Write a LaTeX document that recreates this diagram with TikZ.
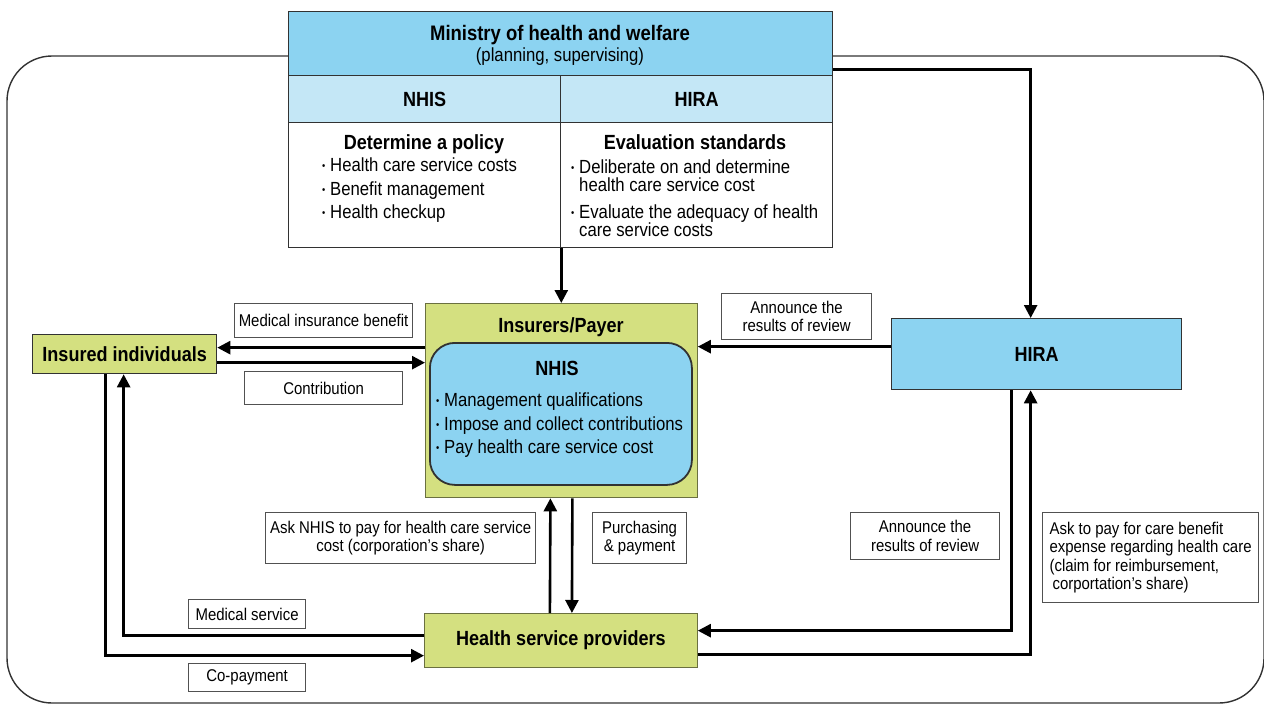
\documentclass[tikz,border=0pt]{standalone}
\usepackage{fontspec}
\setmainfont{Liberation Sans}[FakeStretch=0.88]
\usetikzlibrary{arrows.meta}
\definecolor{skyblue}{RGB}{140,211,241}
\definecolor{paleblue}{RGB}{196,231,246}
\definecolor{olive}{RGB}{212,224,128}
\definecolor{edge}{RGB}{50,50,50}
\newcommand{\bul}{\makebox[8pt][l]{\raisebox{0.1em}{\scalebox{0.55}{\textbullet}}}}
\newcommand{\ind}{\hspace*{8pt}}
\tikzset{
  box/.style={draw=edge,line width=1.3pt,inner sep=0pt,anchor=north west},
  lbl/.style={draw=edge!85,fill=white,line width=1.2pt,inner sep=0pt,anchor=north west,align=center,font=\fontsize{17}{18.5}\selectfont},
  arr/.style={line width=2.6pt,-{Triangle[length=13pt,width=13pt]}},
  ttl/.style={font=\fontsize{20.5}{22}\selectfont\bfseries},
}
\begin{document}
\begin{tikzpicture}[x=1pt,y=-1pt]
    \useasboundingbox (0,0) rectangle (1264,704);
    % outer frame
    \draw[line width=1.4pt,draw=edge,rounded corners=45pt] (7,56) rectangle (1264,703);
    % ministry of health and welfare
    \node[box,fill=skyblue,minimum width=544pt,minimum height=64pt] (ministry) at (288,11) {};
    \node[anchor=base,font=\fontsize{21}{22}\selectfont\bfseries] (mintitle) at (560,40.5) {Ministry of health and welfare};
    \node[anchor=base,font=\fontsize{19}{22}\selectfont] (minsub) at (560,61) {(planning, supervising)};
    \node[box,fill=paleblue,minimum width=272pt,minimum height=47pt,ttl] (nhishead) at (288,75) {NHIS};
    \node[box,fill=paleblue,minimum width=272pt,minimum height=47pt,ttl] (hirahead) at (560,75) {HIRA};
    \node[box,fill=white,minimum width=272pt,minimum height=125pt] (nhisbody) at (288,122) {};
    \node[box,fill=white,minimum width=272pt,minimum height=125pt] (hirabody) at (560,122) {};
    \node[ttl,anchor=base] (policy) at (424,149.5) {Determine a policy};
    % base anchor of a list = baseline of its last line
    \node[anchor=base west,align=left,inner sep=0pt,font=\fontsize{19}{23.5}\selectfont] (policylist) at (322,218.5)
        {\bul Health care service costs\\ \bul Benefit management\\ \bul Health checkup};
    \node[ttl,anchor=base] (standards) at (695,149.5) {Evaluation standards};
    \node[anchor=base west,align=left,inner sep=0pt,font=\fontsize{19}{18}\selectfont] (standardslist) at (571,236.5)
        {\bul Deliberate on and determine\\ \ind health care service cost\\[9pt] \bul Evaluate the adequacy of health\\ \ind care service costs};
    % actors
    \node[box,fill=olive,minimum width=184pt,minimum height=39pt,ttl] (insured) at (32,334) {Insured individuals};
    \node[box,fill=olive,draw=olive!50!black,minimum width=271.5pt,minimum height=194pt] (insurers) at (425,303) {};
    \node[ttl,anchor=base] (payer) at (561,332) {Insurers/Payer};
    \node[box,fill=skyblue,line width=1.8pt,rounded corners=25pt,minimum width=262pt,minimum height=142pt] (nhis) at (429,342) {};
    \node[ttl,anchor=base] (nhistitle) at (557,375) {NHIS};
    \node[anchor=base west,align=left,inner sep=0pt,font=\fontsize{19}{23.5}\selectfont] (nhislist) at (436,453.5)
        {\bul Management qualifications\\ \bul Impose and collect contributions\\ \bul Pay health care service cost};
    \node[box,fill=skyblue,minimum width=290pt,minimum height=71pt,ttl] (hira) at (891,318) {HIRA};
    \node[box,fill=olive,draw=olive!50!black,minimum width=272.5pt,minimum height=54pt,ttl] (providers) at (424,613) {Health service providers};
    % labels
    \node[lbl,minimum width=178pt,minimum height=34pt] (benefit) at (234,303) {Medical insurance benefit};
    \node[lbl,minimum width=158pt,minimum height=33pt] (contribution) at (244,371) {Contribution};
    \node[lbl,minimum width=150pt,minimum height=46pt] (review) at (721,293) {Announce the\\results of review};
    \node[lbl,minimum width=270pt,minimum height=51pt] (asknhis) at (265,512) {Ask NHIS to pay for health care service\\cost (corporation’s share)};
    \node[lbl,minimum width=94pt,minimum height=51pt] (purchasing) at (592,512) {Purchasing\\\& payment};
    \node[lbl,minimum width=149pt,minimum height=47pt] (reviewb) at (850,512) {Announce the\\results of review};
    \node[lbl,align=left,minimum width=216pt,minimum height=90pt] (claim) at (1042,512)
        {Ask to pay for care benefit\\expense regarding health care\\(claim for reimbursement,\\\hspace*{3pt}corportation’s share)};
    \node[lbl,minimum width=117pt,minimum height=29pt] (medservice) at (188,599) {Medical service};
    \node[lbl,minimum width=117pt,minimum height=28pt] (copay) at (188,663) {Co-payment};
    % flows from the ministry
    \draw[arr] (nhisbody.south east) -- (nhisbody.south east |- insurers.north);
    \draw[arr] ([yshift=7pt]ministry.south east) -| ([xshift=-6pt]hira.north);
    % insured individuals and insurers
    \coordinate (ibtop) at ([yshift=6.5pt]insured.east);
    \coordinate (ibbot) at ([yshift=-8.5pt]insured.east);
    \draw[arr] (insurers.west |- ibtop) -- (ibtop);
    \draw[arr] (ibbot) -- (insurers.west |- ibbot);
    % hira and insurers
    \coordinate (hw) at ([yshift=7.5pt]hira.west);
    \draw[arr] (hw) -- (insurers.east |- hw);
    % insured individuals and providers
    \draw[arr] ([xshift=-19pt]insured.south) |- ([yshift=-15pt]providers.west);
    \draw[arr] ([yshift=5pt]providers.west) -| ([xshift=-1pt]insured.south);
    % insurers and providers
    \draw[arr] ([xshift=-11pt]providers.north) -- ([xshift=-11pt]insurers.south);
    \draw[arr] ([xshift=11pt]insurers.south) -- ([xshift=11pt]providers.north);
    % hira and providers
    \draw[arr] ([xshift=-25pt]hira.south) |- ([yshift=10pt]providers.east);
    \draw[arr] ([yshift=-14pt]providers.east) -| ([xshift=-6pt]hira.south);
\end{tikzpicture}
\end{document}
